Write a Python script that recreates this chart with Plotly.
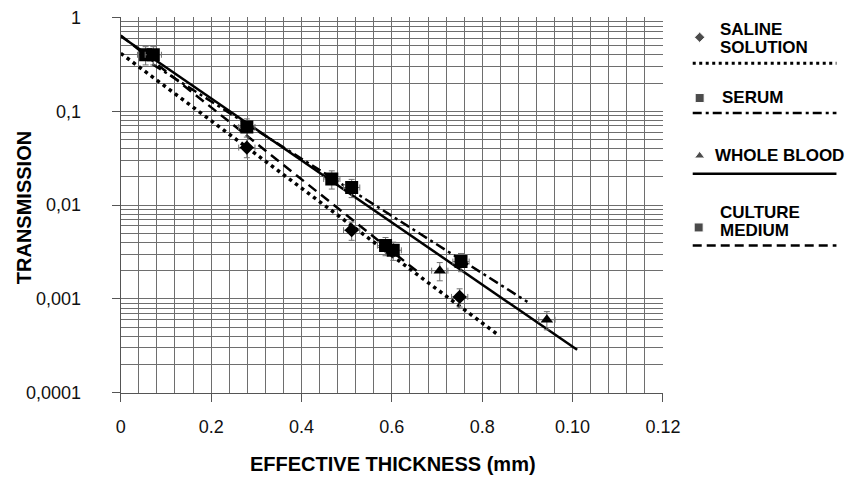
import plotly.graph_objects as go

# Measured transmission vs effective thickness (x axis labelled as printed)
saline_x = [0.0279, 0.0511, 0.0750]
saline_y = [0.041, 0.0054, 0.00105]
serum_x = [0.0055, 0.0279, 0.0467, 0.0753]
serum_y = [0.40, 0.068, 0.019, 0.0025]
blood_x = [0.0706, 0.0943]
blood_y = [0.0020, 0.0006]
culture_x = [0.0072, 0.0511, 0.0586, 0.0603]
culture_y = [0.40, 0.0154, 0.0037, 0.0033]

# Exponential fit lines (end points)
saline_fit_x = [0.0, 0.0838]
saline_fit_y = [0.415, 0.000404]
serum_fit_x = [0.007, 0.090]
serum_fit_y = [0.318, 0.00093]
blood_fit_x = [0.0, 0.101]
blood_fit_y = [0.63, 0.000287]
culture_fit_x = [0.0, 0.0658]
culture_fit_y = [0.644, 0.00193]

x_tickvals = [0, 0.02, 0.04, 0.06, 0.08, 0.10, 0.12]
x_ticktext = ["0", "0.2", "0.4", "0.6", "0.8", "0.10", "0.12"]
y_tickvals = [0.0001, 0.001, 0.01, 0.1, 1]
y_ticktext = ["0,0001", "0,001", "0,01", "0,1", "1"]

FONT = "Liberation Sans, Arial, sans-serif"
W, H = 855, 486


# page-position helpers (layout placement on the x2/y2 overlay)
def px(v):
    return (v - 3.2) / 0.9817


def py(v):
    return (v - 8.6) / 0.963


# plot area edges
PL, PR, PT, PB = px(120), px(667), py(16), py(393)

err_style = dict(color="#707070", thickness=1, width=3)

fig = go.Figure()

# fit lines
fig.add_trace(go.Scatter(x=saline_fit_x, y=saline_fit_y, mode="lines",
                         line=dict(color="black", width=3.5, dash="3.5px,4px")))
fig.add_trace(go.Scatter(x=serum_fit_x, y=serum_fit_y, mode="lines",
                         line=dict(color="black", width=2.5, dash="10px,4px,3px,4px")))
fig.add_trace(go.Scatter(x=blood_fit_x, y=blood_fit_y, mode="lines",
                         line=dict(color="black", width=2.5)))
fig.add_trace(go.Scatter(x=culture_fit_x, y=culture_fit_y, mode="lines",
                         line=dict(color="black", width=2.5, dash="10px,6px")))


# measured points with error bars
def pts(x, y, symbol, size):
    return go.Scatter(
        x=x, y=y, mode="markers",
        marker=dict(symbol=symbol, size=size, color="black"),
        error_y=dict(type="percent", value=22, **err_style),
        error_x=dict(type="constant", value=0.0018, **err_style),
    )


fig.add_trace(pts(saline_x, saline_y, "diamond", 11))
fig.add_trace(pts(serum_x, serum_y, "square", 13))
fig.add_trace(pts(blood_x, blood_y, "triangle-up", 11))
fig.add_trace(pts(culture_x, culture_y, "square", 13))

# legend block
leg_marker_x = [px(704), px(704), px(704), px(703)]
leg_marker_y = [py(36), py(97), py(155), py(227)]
leg_symbols = ["diamond", "square", "triangle-up", "square"]
leg_sizes = [8, 9, 9, 9]
fig.add_trace(go.Scatter(x=leg_marker_x, y=leg_marker_y, mode="markers",
                         xaxis="x2", yaxis="y2", hoverinfo="skip",
                         marker=dict(symbol=leg_symbols, size=leg_sizes, color="black")))

leg_text = [("SALINE", 723, 28), ("SOLUTION", 723, 46), ("SERUM", 725, 96),
            ("WHOLE BLOOD", 717, 155), ("CULTURE", 723, 212), ("MEDIUM", 723, 230)]
annotations = []
for t, tx, ty in leg_text:
    annotations.append(dict(text="<b>%s</b>" % t, x=px(tx), y=py(ty), xref="x2", yref="y2",
                            xanchor="left", yanchor="middle", showarrow=False,
                            font=dict(family=FONT, size=17, color="black")))

leg_lines = [(62, "3px,3.5px", 3), (112, "9px,4px,3px,4px", 2.5),
             (173, "solid", 2.5), (245, "9px,5px", 2.5)]
shapes = []
for ly, dash, w in leg_lines:
    shapes.append(dict(type="line", xref="x2", yref="y2", x0=px(697), x1=px(842),
                       y0=py(ly), y1=py(ly),
                       line=dict(color="black", width=w, dash=dash)))

# axis titles
annotations.append(dict(text="<b>TRANSMISSION</b>", x=px(22), y=py(207), xref="x2", yref="y2",
                        showarrow=False, textangle=-90,
                        font=dict(family=FONT, size=20, color="black")))
annotations.append(dict(text="<b>EFFECTIVE THICKNESS (mm)</b>", x=px(395), y=py(465),
                        xref="x2", yref="y2", showarrow=False,
                        font=dict(family=FONT, size=20, color="black")))

grid_col = "#6e6e6e"
fig.update_layout(
    width=W, height=H,
    margin=dict(l=0, r=0, t=0, b=0),
    paper_bgcolor="white", plot_bgcolor="rgba(0,0,0,0)",
    showlegend=False,
    font=dict(family=FONT, color="black"),
    xaxis=dict(
        domain=[PL / W, PR / W], range=[0, 0.12], anchor="y",
        tickmode="array", tickvals=x_tickvals, ticktext=x_ticktext,
        ticks="outside", ticklen=8, tickcolor="#555",
        tickfont=dict(size=18, family=FONT, color="#111"),
        showgrid=True, gridcolor=grid_col, gridwidth=1.2,
        minor=dict(dtick=0.004, tick0=0, showgrid=True, gridcolor=grid_col, gridwidth=1.2),
        showline=True, linecolor="#555", linewidth=1.2,
        zeroline=False, ticklabelstandoff=10, ticklabeloverflow="allow",
    ),
    yaxis=dict(
        type="log", range=[-4, 0.0008], anchor="x",
        domain=[(H - PB) / H, (H - PT) / H],
        tickmode="array", tickvals=y_tickvals, ticktext=y_ticktext,
        ticks="outside", ticklen=8, tickcolor="#555",
        tickfont=dict(size=18, family=FONT, color="#111"),
        showgrid=True, gridcolor=grid_col, gridwidth=1.2,
        minor=dict(dtick="D1", showgrid=True, gridcolor=grid_col, gridwidth=1.2),
        showline=True, linecolor="#555", linewidth=1.2,
        zeroline=False, ticklabelstandoff=27, ticklabeloverflow="allow",
    ),
    xaxis2=dict(domain=[0, 1], range=[0, W], anchor="y2", visible=False,
                fixedrange=True),
    yaxis2=dict(domain=[0, 1], range=[H, 0], anchor="x2", visible=False,
                fixedrange=True),
    annotations=annotations,
    shapes=shapes,
)

fig.write_html("out.html")
